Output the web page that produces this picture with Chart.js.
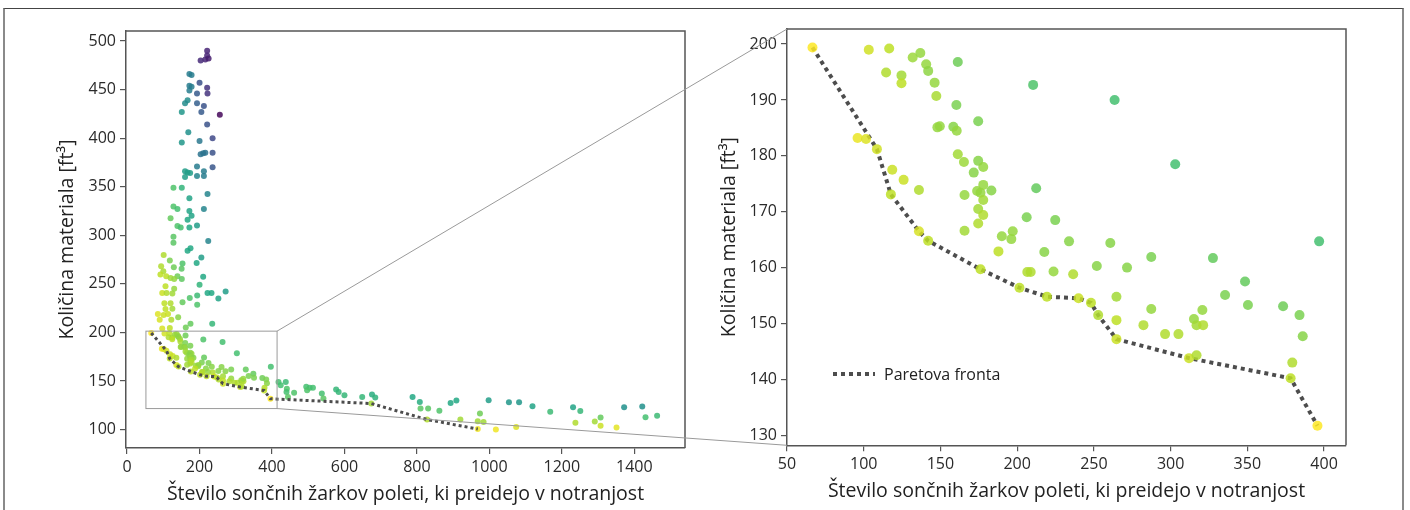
<!DOCTYPE html>
<html>
<head>
<meta charset="utf-8">
<script src="https://cdn.jsdelivr.net/npm/chart.js@4.4.0/dist/chart.umd.min.js"></script>
<style>
html, body { margin: 0; padding: 0; background: #fff; }
#wrap { position: relative; width: 1410px; height: 510px; overflow: hidden; }
#frame { position: absolute; left: 3px; top: 8px; width: 1397px; height: 560px;
  border-top: 1px solid #444; border-left: 2px solid #8a8a8a; border-right: 2px solid #8a8a8a; }
canvas { position: absolute; left: 0; top: 0; }
</style>
</head>
<body>
<div id="wrap">
  <div id="frame"></div>
  <canvas id="leftGraph" width="1410" height="510"></canvas>
  <canvas id="rightGraph" width="1410" height="510"></canvas>
</div>
<script>
/* BESEDILA */
const xTitle = "Število sončnih žarkov poleti, ki preidejo v notranjost";
const yTitle = "Količina materiala [ft³]";
const paretoLabel = "Paretova fronta";

/* OSI */
const leftXTicks = [0, 200, 400, 600, 800, 1000, 1200, 1400];
const leftYTicks = [100, 150, 200, 250, 300, 350, 400, 450, 500];
const rightXTicks = [50, 100, 150, 200, 250, 300, 350, 400];
const rightYTicks = [130, 140, 150, 160, 170, 180, 190, 200];
const leftXRange = [-3, 1540];
const leftYRange = [81, 510.3];
const rightXRange = [50, 414.3];
const rightYRange = [128.2, 202.7];
/* okvir povecave na levem grafu */
const zoomBoxX = [52, 414];
const zoomBoxY = [121.6, 201.3];

/* TOCKE: [sončni žarki, material, barvna vrednost 0-1] */
const columnPts = [
  [221,490,0.1],[221,485,0.1],[216,481,0.1],[203,480,0.12],[225,482,0.08],
  [172,466,0.42],[178,465,0.42],[200,457,0.25],[221,452,0.15],[222,446,0.15],
  [172,454,0.42],[178,453,0.42],[172,449,0.42],[193,446,0.28],
  [167,439,0.48],[160,436,0.48],[193,436,0.3],[212,433,0.25],
  [151,427,0.52],[205,427,0.28],[256,424,0.02],[221,414,0.25],
  [169,406,0.5],[236,400,0.22],[151,395.5,0.52],[200,397,0.4],
  [203,383.5,0.38],[210,384.5,0.38],[216,385,0.38],[236,385,0.25],
  [236,370,0.27],[193,370.7,0.42],
  [160,366,0.55],[167,364.6,0.55],[174,364,0.55],[160,360,0.55],
  [193,361,0.45],[212,366,0.42],[212,361,0.42],
  [128,349,0.72],[151,349,0.65],[222,342.6,0.45],[172,338,0.58],
  [128,329.5,0.72],[139,327,0.7],[172,325,0.58],[178,320,0.58],[212,327,0.45],
  [120,317.5,0.76],[167,316,0.6],[139,309.6,0.72],[148,308,0.7],[172,308,0.6],[193,310,0.55],
  [128,298.6,0.74],[128,292.4,0.74],[224,294,0.45],
  [167,284,0.6],[175,286.6,0.6],[101,279.7,0.88],[205,277,0.55],
  [118,274,0.8],[94,268,0.88],[129,267,0.78],[153,271,0.72],[150.5,265.6,0.74],[192,271.5,0.6],
  [100,263,0.87],[108,257.7,0.9],[120,256,0.86],[139,257.7,0.78],[151,255,0.75],[130,255,0.84],
  [92,259.5,0.9],[210,257.4,0.6],[200,249,0.65],
  [97,240.5,0.92],[109,240.5,0.88],[125,240,0.86],[106,247.4,0.9],[130,245,0.84],[222,240.5,0.6],
  [233,240.5,0.6],[272,242,0.55],[252,235,0.58],[193.5,238,0.68],[173,235.4,0.72],[193.5,228.5,0.72],
  [153,231,0.76],[103,230,0.9],[120,230,0.88],[106,224,0.9],[125,224.4,0.86],[113,219,0.92],
  [85,219,0.95],[101,218,0.92],[141,215.5,0.82],[122,213,0.88],[90,213,0.94],[175,209,0.76],
  [235,209,0.66],[162,205,0.78],[97,204,0.94],[118,204.5,0.9]
];
const zoomPts = [
  [66.6,199.4,1.0],[103.3,199,0.93],[116.6,199.2,0.9],[131.9,197.6,0.85],[136.9,198.4,0.84],
  [114.6,194.9,0.88],[124.6,194.4,0.86],[124.6,193,0.9],[140.7,196.4,0.84],[142,195.2,0.83],
  [161.3,196.8,0.78],[146.2,193.1,0.84],[147.3,190.7,0.87],[160.4,189.1,0.8],[210.4,192.7,0.72],
  [148,185.1,0.84],[149.6,185.3,0.84],[158.4,185.2,0.82],[160.6,184.5,0.84],[174.6,186.2,0.8],
  [96,183.2,0.97],[101.5,183,0.95],[108.6,181.2,0.93],[161.3,180.3,0.86],[165.3,178.9,0.85],
  [174.6,179.1,0.82],[177.9,178,0.84],[171.7,177,0.82],[118.6,177.5,0.92],[126,175.7,0.92],
  [136,173.9,0.88],[117.7,173.1,0.9],[165.7,173,0.84],[173.9,173.7,0.84],[176.1,173.4,0.84],
  [177.9,174.8,0.84],[183.2,173.8,0.82],[177.9,172.1,0.86],[174.6,170.5,0.86],[177.9,169.4,0.88],
  [174.6,167.9,0.88],[212.4,174.2,0.76],[206.2,169,0.8],[224.8,168.5,0.8],[165.7,166.6,0.86],
  [136,166.5,0.94],[142,164.8,0.9],[190,165.6,0.84],[197.1,166.5,0.84],[196.2,165.1,0.84],
  [187.8,162.9,0.9],[217.7,162.8,0.82],[233.8,164.7,0.82],[176.1,159.7,0.9],[206.6,159.2,0.88],
  [208.8,159.2,0.88],[223.7,159.3,0.84],[236.5,158.8,0.88],[201.5,156.4,0.9],[219.4,154.8,0.9],
  [263.5,190,0.7],[303,178.5,0.7],[396.8,164.7,0.7],[260.7,164.4,0.82],[287.4,161.9,0.8],
  [327.6,161.7,0.76],[251.9,160.3,0.82],[271.6,160,0.82],[348.5,157.5,0.76],[335.5,155.1,0.8],
  [350.4,153.3,0.8],[373.3,153.1,0.78],[384,151.5,0.8],[386.1,147.7,0.82],[240,154.5,0.92],
  [248.1,153.7,0.9],[264.7,154.8,0.86],[252.8,151.5,0.88],[264.7,150.6,0.9],[287.4,152.6,0.84],
  [282.3,149.7,0.88],[296.4,148.1,0.88],[305.1,148.1,0.88],[315.2,150.8,0.84],[316.9,149.7,0.86],
  [321.2,149.7,0.88],[320.7,152.4,0.84],[264.7,147.2,0.92],[312,143.8,0.92],[316.9,144.3,0.88],
  [379.3,143,0.88],[378.2,140.2,0.9],[395.7,131.7,1.0]
];
const tailPts = [
  [418,149,0.7],[424,145.5,0.7],[438,149,0.68],[441,142,0.72],[440,138.7,0.7],[461,138,0.72],
  [444,133.5,0.74],[494.5,144,0.7],[504,143,0.7],[513,143,0.7],[497,140.5,0.72],[537.5,137,0.7],
  [542,132,0.74],[577,141.2,0.66],[584,138.7,0.66],[600,135.4,0.66],[649,133.5,0.66],[676,136,0.62],
  [674,126.8,0.86],[685,133,0.64],[788,133.5,0.6],[808,128.4,0.62],[810,121.6,0.74],[831,121.6,0.74],
  [828,110.3,0.88],[862,119.3,0.72],[893,127.4,0.6],[909,130,0.6],[920,110.3,0.86],[968,108.6,0.86],
  [974,116.5,0.78],[984,107.8,0.86],[968,100.5,0.98],[998,130.2,0.55],[1018,100,0.98],[1054,128.1,0.52],
  [1082,128.1,0.52],[1074,102.7,0.95],[1119,124,0.58],[1168,118.2,0.68],[1231,122.9,0.58],[1251,119,0.66],
  [1237.5,107.1,0.88],[1291,108.2,0.86],[1307,112.3,0.76],[1307,103.8,0.92],[1351,102,0.96],
  [1372,122.9,0.5],[1422,123.6,0.5],[1431,112.6,0.7],[1463,114.3,0.68]
];

/* PARETOVA FRONTA */
const paretoX = [66.6, 108.6, 117.7, 136, 142, 176.1, 201.5, 219.4, 240, 248.1, 252.8, 264.7, 312, 378.2, 395.7, 674, 828, 968];
const paretoY = [199.4, 181.2, 173.1, 166.5, 164.8, 159.7, 156.4, 154.8, 154.5, 153.7, 151.5, 147.2, 143.8, 140.2, 131.7, 126.8, 110.3, 100.5];

/* BARVE (viridis) */
const viridisStops = ["#440154","#482475","#414487","#355f8d","#2a788e","#21918c","#22a884","#44bf70","#7ad151","#bddf26","#fde725"];
function hexRgb(h) {
  return [parseInt(h.slice(1,3),16), parseInt(h.slice(3,5),16), parseInt(h.slice(5,7),16)];
}
function viridis(t, alpha) {
  const s = Math.max(0, Math.min(1, t)) * 10;
  const i = Math.min(9, Math.floor(s));
  const f = s - i;
  const a = hexRgb(viridisStops[i]), b = hexRgb(viridisStops[i + 1]);
  const c = a.map((v, k) => Math.round(v + (b[k] - v) * f));
  return `rgba(${c[0]},${c[1]},${c[2]},${alpha})`;
}

const fontFam = "'Open Sans', sans-serif";
const axisColor = "#555";
const lineColor = "#4d4d4d";

const allPts = columnPts.concat(zoomPts, tailPts);
const inRight = p => p[0] >= rightXRange[0] && p[0] <= rightXRange[1] && p[1] >= rightYRange[0] && p[1] <= rightYRange[1];
const rightPts = allPts.filter(inRight);
const paretoAll = paretoX.map((x, i) => ({ x: x, y: paretoY[i] }));
const paretoRight = paretoAll.filter(p => p.x <= rightXRange[1]);

/* okvir okoli risalne povrsine */
const boxPlugin = {
  id: "box",
  afterDraw(chart) {
    const { ctx, chartArea: a } = chart;
    ctx.save();
    ctx.strokeStyle = axisColor;
    ctx.lineWidth = 1.5;
    ctx.beginPath();
    ctx.moveTo(a.left, a.top);
    ctx.lineTo(a.right, a.top);
    ctx.lineTo(a.right, a.bottom);
    ctx.stroke();
    ctx.restore();
  }
};

function axisConfig(range, ticks, size, title, titlePad) {
  return {
    type: "linear",
    min: range[0],
    max: range[1],
    afterBuildTicks: s => { s.ticks = ticks.map(v => ({ value: v })); },
    afterFit: s => { if (s.isHorizontal()) s.height = size; else s.width = size; },
    grid: { drawOnChartArea: false, drawTicks: true, tickLength: 6, color: axisColor, lineWidth: 1.2 },
    border: { display: true, color: axisColor, width: 1.5 },
    ticks: { autoSkip: false, maxRotation: 0, padding: 4, color: "#2a2a2a",
      font: { family: fontFam, size: 16 }, callback: v => String(v) },
    title: { display: true, text: title, color: "#222", font: { family: fontFam, size: 19.5 }, padding: titlePad }
  };
}

/* LEVI GRAF */
const leftChart = new Chart(document.getElementById("leftGraph"), {
  type: "scatter",
  data: {
    datasets: [
      { type: "line", label: paretoLabel, data: paretoAll, borderColor: lineColor, borderWidth: 3,
        borderDash: [3, 3], pointRadius: 0, fill: false, tension: 0, order: 0 },
      { label: "rešitve", data: allPts.map(p => ({ x: p[0], y: p[1] })),
        backgroundColor: allPts.map(p => viridis(p[2], 0.85)), pointRadius: 3, borderWidth: 0, order: 1 }
    ]
  },
  options: {
    responsive: false,
    animation: false,
    layout: { padding: { left: 0, top: 31, right: 725, bottom: 0 } },
    plugins: { legend: { display: false }, tooltip: { enabled: false } },
    scales: {
      x: axisConfig(leftXRange, leftXTicks, 62, xTitle, { top: 0, bottom: 4 }),
      y: axisConfig(leftYRange, leftYTicks, 126, yTitle, { top: 56, bottom: 0 })
    }
  },
  plugins: [boxPlugin, {
    id: "zoomBox",
    afterDatasetsDraw(chart) {
      const { ctx, scales } = chart;
      const x0 = scales.x.getPixelForValue(zoomBoxX[0]), x1 = scales.x.getPixelForValue(zoomBoxX[1]);
      const y0 = scales.y.getPixelForValue(zoomBoxY[1]), y1 = scales.y.getPixelForValue(zoomBoxY[0]);
      ctx.save();
      ctx.strokeStyle = "#9a9a9a";
      ctx.lineWidth = 1;
      ctx.strokeRect(x0, y0, x1 - x0, y1 - y0);
      ctx.restore();
    }
  }]
});

/* DESNI GRAF */
const rightChart = new Chart(document.getElementById("rightGraph"), {
  type: "scatter",
  data: {
    datasets: [
      { label: "rešitve", data: rightPts.map(p => ({ x: p[0], y: p[1] })),
        backgroundColor: rightPts.map(p => viridis(p[2], 0.85)), pointRadius: 5, borderWidth: 0, order: 0 },
      { type: "line", label: paretoLabel, data: paretoRight, borderColor: lineColor, borderWidth: 4,
        borderDash: [4, 4], pointRadius: 0, fill: false, tension: 0, order: 1 }
    ]
  },
  options: {
    responsive: false,
    animation: false,
    layout: { padding: { left: 700, top: 29, right: 64, bottom: 0 } },
    plugins: { legend: { display: false }, tooltip: { enabled: false } },
    scales: {
      x: axisConfig(rightXRange, rightXTicks, 64.7, xTitle, { top: 0, bottom: 7 }),
      y: axisConfig(rightYRange, rightYTicks, 87, yTitle, { top: 18, bottom: 0 })
    }
  },
  plugins: [boxPlugin, {
    id: "paretoLegend",
    afterDraw(chart) {
      const { ctx, chartArea: a } = chart;
      const ds = chart.data.datasets[1];
      const y = a.top + 345;
      ctx.save();
      ctx.strokeStyle = ds.borderColor;
      ctx.lineWidth = ds.borderWidth;
      ctx.setLineDash(ds.borderDash);
      ctx.beginPath();
      ctx.moveTo(a.left + 46, y);
      ctx.lineTo(a.left + 88, y);
      ctx.stroke();
      ctx.setLineDash([]);
      ctx.fillStyle = "#222";
      ctx.font = "16px " + fontFam;
      ctx.textBaseline = "middle";
      ctx.fillText(ds.label, a.left + 97, y + 1);
      ctx.restore();
    }
  }, {
    id: "connectors",
    afterDraw(chart) {
      const { ctx, chartArea: a } = chart;
      const ls = leftChart.scales;
      const bx = ls.x.getPixelForValue(zoomBoxX[1]);
      const bt = ls.y.getPixelForValue(zoomBoxY[1]);
      const bb = ls.y.getPixelForValue(zoomBoxY[0]);
      ctx.save();
      ctx.strokeStyle = "#9a9a9a";
      ctx.lineWidth = 1;
      ctx.beginPath();
      ctx.moveTo(bx, bt);
      ctx.lineTo(a.left, a.top);
      ctx.moveTo(bx, bb);
      ctx.lineTo(a.left, a.bottom);
      ctx.stroke();
      ctx.restore();
    }
  }]
});
</script>
</body>
</html>
